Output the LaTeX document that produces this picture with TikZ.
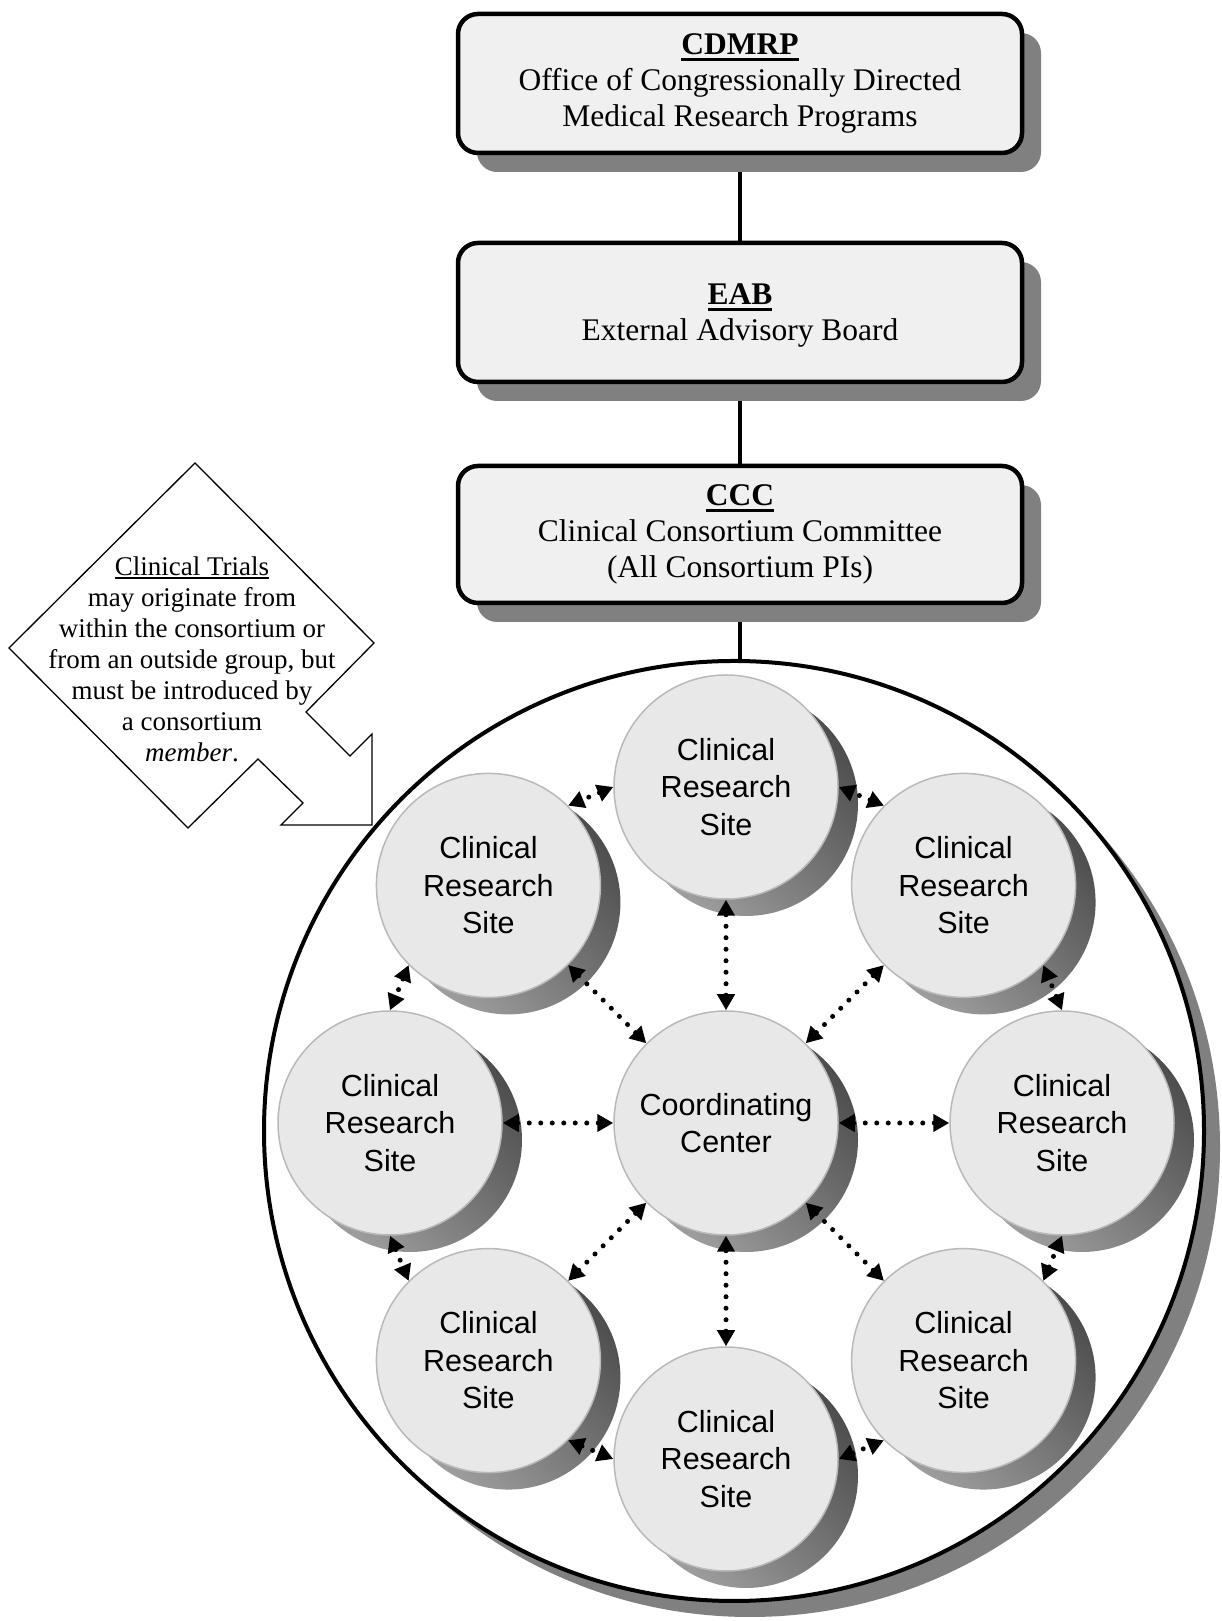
\documentclass[tikz,border=0pt]{standalone}
\usepackage{fontspec}
\setmainfont{Liberation Serif}
\setsansfont{Liberation Sans}
\usetikzlibrary{arrows.meta,shadows,backgrounds}

\newcommand{\ulhead}[2][2pt]{\leavevmode\vtop{\hbox{#2}\kern#1\hrule height #1}}

\tikzset{
  orgbox/.style={draw, line width=4.5pt, rounded corners=20pt, fill=gray!12,
    minimum width=564pt, minimum height=139pt, align=center,
    font=\fontsize{31.5}{36}\selectfont,
    drop shadow={shadow xshift=19pt, shadow yshift=-19pt, draw=none, fill=black!50, opacity=1}},
  sitecirc/.style={circle, draw=gray!55, line width=1.5pt, fill=gray!18,
    minimum size=224pt, inner sep=0pt, align=center,
    font=\sffamily\fontsize{30.5}{37.5}\selectfont,
    general shadow={shadow xshift=20pt, shadow yshift=-17pt, draw=none,
      top color=black!70, bottom color=black!38, shading angle=-45}},
  link/.style={line width=5pt, line cap=round, dash pattern=on 0pt off 11.5pt,
    {Triangle[length=16pt,width=17pt]}-{Triangle[length=16pt,width=17pt]}},
  conn/.style={line width=4pt}
}

\begin{document}
\begin{tikzpicture}[x=1pt,y=1pt]
  \useasboundingbox (0,0) rectangle (1221,1621);

  % chain of command
  \node[orgbox] (cdmrp) at (740,1537.5) {\ulhead[3pt]{\textbf{CDMRP}}\\Office of Congressionally Directed\\Medical Research Programs};
  \node[orgbox, text depth=0pt] (eab) at (740,1308.5) {\ulhead[3pt]{\textbf{EAB}}\\External Advisory Board};
  \node[orgbox, minimum height=137pt] (ccc) at (740,1086.5) {\ulhead[3pt]{\textbf{CCC}}\\Clinical Consortium Committee\\(All Consortium PIs)};

  % the consortium
  \node[circle, draw, line width=4pt, fill=white, minimum size=940pt, inner sep=0pt,
    drop shadow={shadow xshift=16pt, shadow yshift=-16pt, draw=none, fill=black!50, opacity=1}] (consortium) at (734,490) {};

  \begin{pgfonlayer}{background}
    \draw[conn] (cdmrp) -- (eab);
    \draw[conn] (eab) -- (ccc);
    \draw[conn] (ccc.south) -- (ccc.south |- consortium.north);
  \end{pgfonlayer}

  % callout
  \draw[line width=1.3pt, fill=white] (195,1158) -- (374,978) -- (306,909) -- (350,865) -- (372,887)
    -- (372,796) -- (281,796) -- (303,818) -- (258,862) -- (188,793) -- (9,973) -- cycle;
  \node[align=center, font=\fontsize{27}{31}\selectfont] (trials) at (192,962)
    {\ulhead{Clinical Trials}\\may originate from\\within the consortium or\\from an outside group, but\\must be introduced by\\a consortium\\\textit{member}.};

  % sites
  \node[sitecirc] (coord) at (726,498) {Coordinating\\Center};
  \foreach \a in {0,45,...,315}
    \node[sitecirc] (site\a) at ([shift={(\a:336)}]coord.center) {Clinical\\Research\\Site};

  \foreach \a in {0,45,...,315} {
    \pgfmathtruncatemacro\b{mod(\a+180,360)}
    \pgfmathtruncatemacro\n{mod(\a+45,360)}
    \pgfmathtruncatemacro\p{mod(\a+90,360)}
    \pgfmathtruncatemacro\q{mod(\a+315,360)}
    \draw[link] (coord.\a) -- (site\a.\b);
    \draw[link] (site\a.\p) -- (site\n.\q);
  }
\end{tikzpicture}
\end{document}
